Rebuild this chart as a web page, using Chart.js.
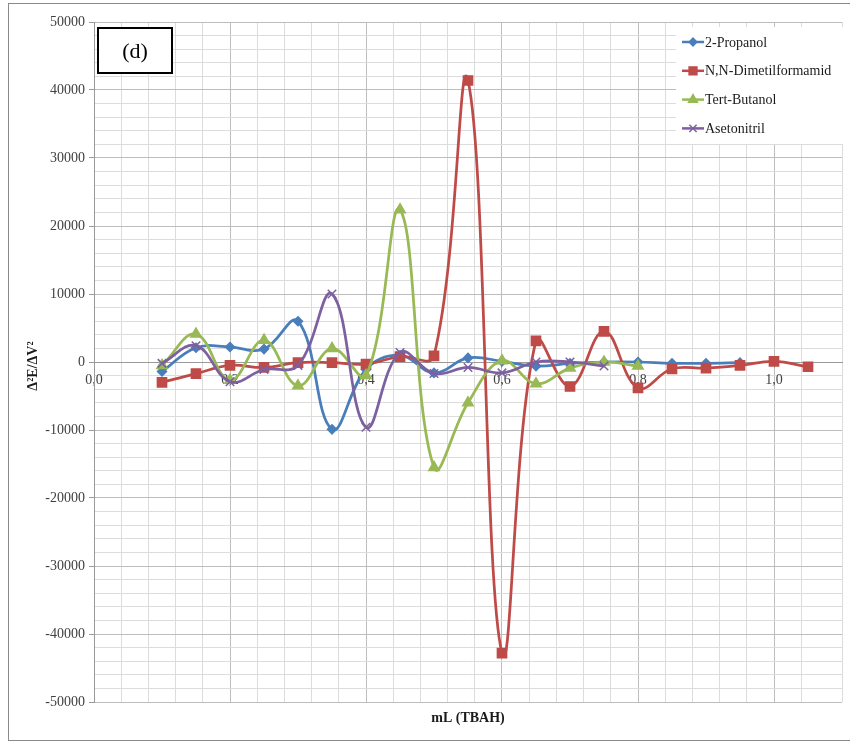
<!DOCTYPE html>
<html>
<head>
<meta charset="utf-8">
<title>Δ²E/ΔV² – mL (TBAH)</title>
<script src="https://cdn.jsdelivr.net/npm/chart.js@4.4.1/dist/chart.umd.min.js"></script>
<style>
  html, body { margin: 0; padding: 0; background: #ffffff; }
  #wrap { position: relative; width: 850px; height: 744px; }
</style>
</head>
<body>
<div id="wrap"><canvas id="chart" width="850" height="744"></canvas></div>
<script>
// Titrant volume (mL TBAH) for each reading
const volumes = [0.10, 0.15, 0.20, 0.25, 0.30, 0.35, 0.40, 0.45, 0.50, 0.55,
                 0.60, 0.65, 0.70, 0.75, 0.80, 0.85, 0.90, 0.95, 1.00, 1.05];

// Second derivative Δ²E/ΔV² per solvent
const propanol = [-1400, 2100, 2200, 1900, 6000, -9900, -1100, 1000, -1600, 600,
                  100, -600, -200, 0, 0, -200, -200, -100];
const dimetilformamid = [-3000, -1700, -500, -800, -100, -100, -300, 800, 900, 41400,
                         -42800, 3100, -3600, 4500, -3800, -1000, -900, -500, 100, -700];
const tertButanol = [-500, 4100, -2700, 3200, -3500, 2000, -2000, 22400, -15500, -6000,
                     200, -3200, -900, 0, -600];
const asetonitril = [-200, 2400, -2900, -1100, -500, 10000, -9600, 1400, -1700, -800,
                     -1600, 0, 0, -600];

const seriesNames = ['2-Propanol', 'N,N-Dimetilformamid', 'Tert-Butanol', 'Asetonitril'];
const xTickValues = [0.0, 0.2, 0.4, 0.6, 0.8, 1.0];
const yTickValues = [-50000, -40000, -30000, -20000, -10000, 0, 10000, 20000, 30000, 40000, 50000];

const toPoints = arr => arr.map((v, i) => ({ x: volumes[i], y: v }));
const isXMajor = v => xTickValues.some(t => Math.abs(t - v) < 1e-6);
const isYMajor = v => yTickValues.some(t => Math.abs(t - v) < 1e-6);

const FONT = '"Liberation Serif", "Times New Roman", serif';

function makeSet(label, data, color, style, radius, order) {
  return {
    label, data: toPoints(data),
    borderColor: color, backgroundColor: color,
    borderWidth: 2.75,
    pointStyle: style, pointRadius: radius, pointHoverRadius: radius,
    pointBorderColor: color, pointBackgroundColor: color, pointBorderWidth: 1.5,
    tension: 0.4, fill: false, order
  };
}

const datasets = [
  makeSet(seriesNames[0], propanol, '#4A7EBB', 'rectRot', 4.5, 4),
  makeSet(seriesNames[1], dimetilformamid, '#BE4B48', 'rect', 6.5, 3),
  makeSet(seriesNames[2], tertButanol, '#98B954', 'triangle', 6, 2),
  makeSet(seriesNames[3], asetonitril, '#7D60A0', 'crossRot', 6, 1)
];

// Frame, panel tag, axis titles and in-plot legend
const decorations = {
  id: 'decorations',
  beforeDraw(chart) {
    const ctx = chart.ctx;
    ctx.save();
    ctx.fillStyle = '#ffffff';
    ctx.fillRect(0, 0, chart.width, chart.height);
    ctx.restore();
  },
  afterDraw(chart) {
    const ctx = chart.ctx;
    ctx.save();

    // outer frame
    ctx.strokeStyle = '#8a8a8a';
    ctx.lineWidth = 1;
    ctx.strokeRect(8.5, 3.5, 860, 737);

    // panel tag
    ctx.fillStyle = '#ffffff';
    ctx.fillRect(98, 28, 74, 45);
    ctx.strokeStyle = '#000000';
    ctx.lineWidth = 2;
    ctx.strokeRect(98, 28, 74, 45);
    ctx.fillStyle = '#000000';
    ctx.font = '22px ' + FONT;
    ctx.textAlign = 'center';
    ctx.textBaseline = 'middle';
    ctx.fillText('(d)', 135, 52);

    // axis titles
    ctx.font = 'bold 14px ' + FONT;
    ctx.fillStyle = '#1a1a1a';
    ctx.fillText('mL (TBAH)', 468, 718);
    ctx.save();
    ctx.translate(33, 366);
    ctx.rotate(-Math.PI / 2);
    ctx.fillText('Δ²E/ΔV²', 0, 0);
    ctx.restore();

    // legend
    ctx.fillStyle = '#ffffff';
    ctx.fillRect(676, 27, 180, 117);
    ctx.font = '14px ' + FONT;
    ctx.textAlign = 'left';
    ctx.textBaseline = 'middle';
    chart.data.datasets.forEach((ds, i) => {
      const y = 42 + i * 28.8;
      ctx.strokeStyle = ds.borderColor;
      ctx.lineWidth = 2.5;
      ctx.beginPath();
      ctx.moveTo(682, y);
      ctx.lineTo(704, y);
      ctx.stroke();
      ctx.fillStyle = ds.pointBackgroundColor;
      ctx.strokeStyle = ds.pointBorderColor;
      ctx.lineWidth = 1.5;
      Chart.helpers.drawPoint(ctx, {
        pointStyle: ds.pointStyle, radius: ds.pointRadius * 0.85, rotation: 0, borderWidth: 1.5
      }, 693, y);
      ctx.fillStyle = '#1a1a1a';
      ctx.fillText(ds.label, 705, y + 1);
    });

    ctx.restore();
  }
};

new Chart(document.getElementById('chart'), {
  type: 'line',
  data: { datasets },
  options: {
    responsive: false,
    animation: false,
    devicePixelRatio: 1,
    layout: { padding: { left: 0, right: 7, top: 22, bottom: 42 } },
    plugins: { legend: { display: false }, tooltip: { enabled: false } },
    scales: {
      x: {
        type: 'linear',
        position: { y: 0 },
        min: 0, max: 1.1,
        grid: {
          color: ctx => isXMajor(ctx.tick.value) ? '#bdbdbd' : '#dcdcdc',
          lineWidth: 1,
          drawTicks: true,
          tickLength: 5,
          tickColor: ctx => isXMajor(ctx.tick.value) ? '#9a9a9a' : 'rgba(0,0,0,0)'
        },
        border: { display: true, color: '#9a9a9a', width: 1 },
        ticks: {
          stepSize: 0.04,
          autoSkip: false,
          maxRotation: 0,
          padding: 5,
          color: '#404040',
          font: { family: FONT, size: 14 },
          callback: v => isXMajor(v) ? v.toFixed(1).replace('.', ',') : ''
        }
      },
      y: {
        type: 'linear',
        position: 'left',
        min: -50000, max: 50000,
        afterFit: scale => { scale.width = 94; },
        grid: {
          color: ctx => isYMajor(ctx.tick.value) ? '#bdbdbd' : '#dcdcdc',
          lineWidth: 1,
          drawTicks: true,
          tickLength: 5,
          tickColor: ctx => isYMajor(ctx.tick.value) ? '#9a9a9a' : 'rgba(0,0,0,0)'
        },
        border: { display: true, color: '#9a9a9a', width: 1 },
        ticks: {
          stepSize: 2000,
          autoSkip: false,
          padding: 4,
          color: '#404040',
          font: { family: FONT, size: 14 },
          callback: v => isYMajor(v) ? String(v) : ''
        }
      }
    }
  },
  plugins: [decorations]
});
</script>
</body>
</html>
